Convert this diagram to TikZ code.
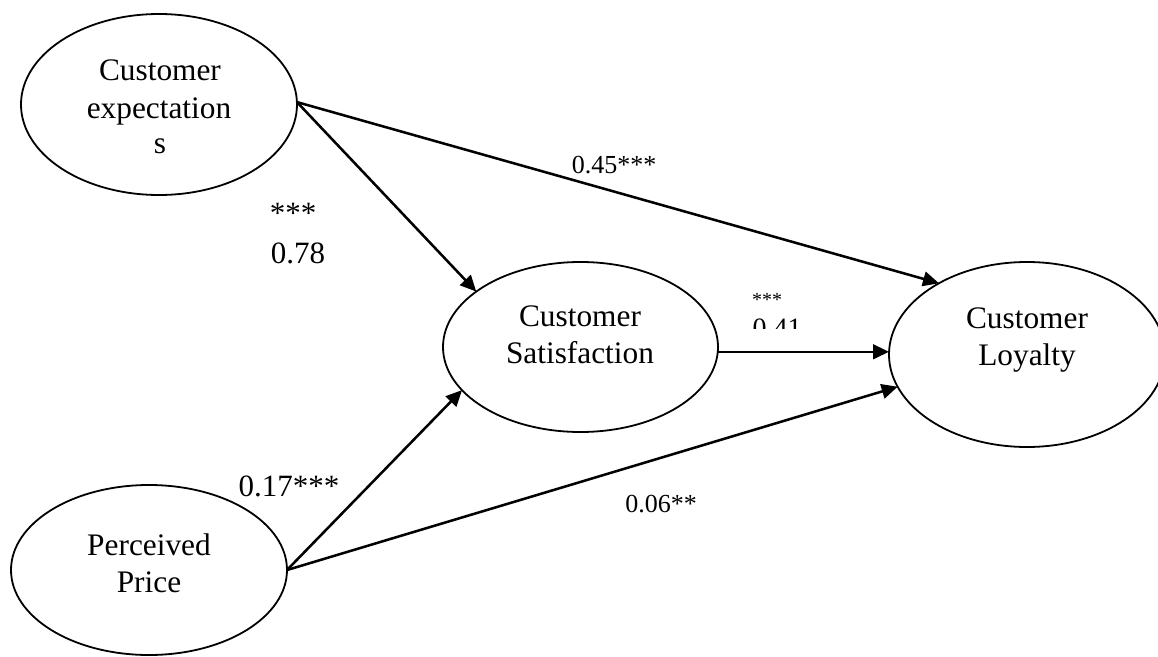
\documentclass[tikz,border=0pt]{standalone}
\usepackage{fontspec}
\setmainfont{Liberation Serif}
\usetikzlibrary{shapes.geometric,arrows.meta}
\begin{document}
\begin{tikzpicture}[x=0.75pt,y=-0.75pt,
  construct/.style={draw, line width=1.35pt, ellipse, inner sep=0pt, outer sep=0pt},
  path/.style={line width=1.9pt, -{Triangle[length=12pt,width=11pt]}},
  maintext/.style={anchor=base, inner sep=0pt, font=\fontsize{23.5}{27.4}\selectfont},
  coef/.style={anchor=base, inner sep=0pt, font=\fontsize{19.5}{23}\selectfont},
  bigcoef/.style={anchor=base, inner sep=0pt, font=\fontsize{23.25}{27.4}\selectfont}]
\useasboundingbox (0,0) rectangle (1158,657);
\begin{scope}
\clip (0,0) rectangle (1158,657);
% constructs
\node[construct, minimum width=276pt*0.75, minimum height=181pt*0.75] (ce) at (159,104.5) {};
\node[construct, minimum width=275pt*0.75, minimum height=170pt*0.75] (cs) at (580.5,347) {};
\node[construct, minimum width=276pt*0.75, minimum height=170pt*0.75] (pp) at (149,570) {};
\node[construct, minimum width=276pt*0.75, minimum height=185pt*0.75] (cl) at (1027,354.5) {};
\end{scope}
% texts
\node[maintext] (ce1) at (160,80) {Customer};
\node[maintext] (ce2) at (159,118) {expectation};
\node[maintext] (ce3) at (160,153) {s};
\node[maintext] (cs1) at (580,326) {Customer};
\node[maintext] (cs2) at (580,363) {Satisfaction};
\node[maintext] (pp1) at (149,555) {Perceived};
\node[maintext] (pp2) at (149,592) {Price};
\node[maintext] (cl1) at (1027,328) {Customer};
\node[maintext] (cl2) at (1027,365) {Loyalty};
% paths
\draw[path] (ce.1) -- (cl.141.8);
\draw[path] (ce.1) -- (cs.152.1);
\draw[path] (cs.-2.5) -- (cs.-2.5 -| cl.west);
\draw[path] (pp.east) -- (cs.200.5);
\draw[path] (pp.east) -- (cl.194.7);
% coefficients
\node[coef] (l45) at (614,173) {0.45***};
\node[bigcoef] (l78s) at (293,223) {***};
\node[bigcoef] (l78) at (298,263) {0.78};
\node[bigcoef] (l17) at (289,496) {0.17***};
\node[coef] (l06) at (661,512) {0.06**};
\node[anchor=base, inner sep=0pt, font=\fontsize{15}{18}\selectfont] (l41s) at (767,306) {***};
\begin{scope}
\clip (700,270) rectangle (860,328);
\node[anchor=base, inner sep=0pt, font=\fontsize{21}{25}\selectfont] (l41) at (777,337) {0.41};
\end{scope}
\end{tikzpicture}
\end{document}
